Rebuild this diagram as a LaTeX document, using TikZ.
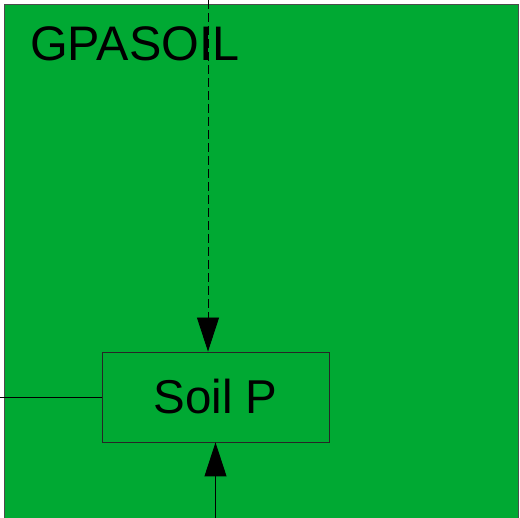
\documentclass[tikz,border=0pt]{standalone}
\usepackage{fontspec}
\setmainfont{Liberation Sans}
\usepackage{xcolor}
\definecolor{verdeSuelo}{RGB}{0,169,51}
\usetikzlibrary{arrows.meta, positioning}

\begin{document}
\begin{tikzpicture}[x=1pt, y=-1pt,
  pool/.style={rectangle, draw=black!85, line width=0.9pt, inner sep=0pt,
               minimum width=227pt, minimum height=90pt,
               font=\fontsize{47.5}{56}\selectfont},
  label/.style={inner sep=0pt, anchor=base west, font=\fontsize{48.5}{58}\selectfont},
  flow/.style={-{Triangle[length=34pt, width=22pt]}, line width=0.9pt, black},
  drive/.style={flow, dash pattern=on 9pt off 4pt}
]
\useasboundingbox (0,0) rectangle (520,518);

% Compartimento GPASOIL
\begin{scope}
  \clip (0,0) rectangle (520,518);
  \draw[fill=verdeSuelo, draw=black!70, line width=0.9pt] (4,4) rectangle (518,530);
\end{scope}
\node[label] (gpasoil) at (30,61) {GPASOIL};

% Pool
\node[pool] (soilp) at (215.5,397) {Soil P};

% Entradas libres
\coordinate (topin) at (208,0);
\coordinate (leftin) at (0,397);
\coordinate (botin) at (215.5,518);

% Conexiones
\draw[drive] (topin) -- (topin |- soilp.north);
\draw[line width=0.9pt] (leftin) -- (soilp.west);
\draw[flow] (botin) -- (soilp.south);

\end{tikzpicture}
\end{document}
